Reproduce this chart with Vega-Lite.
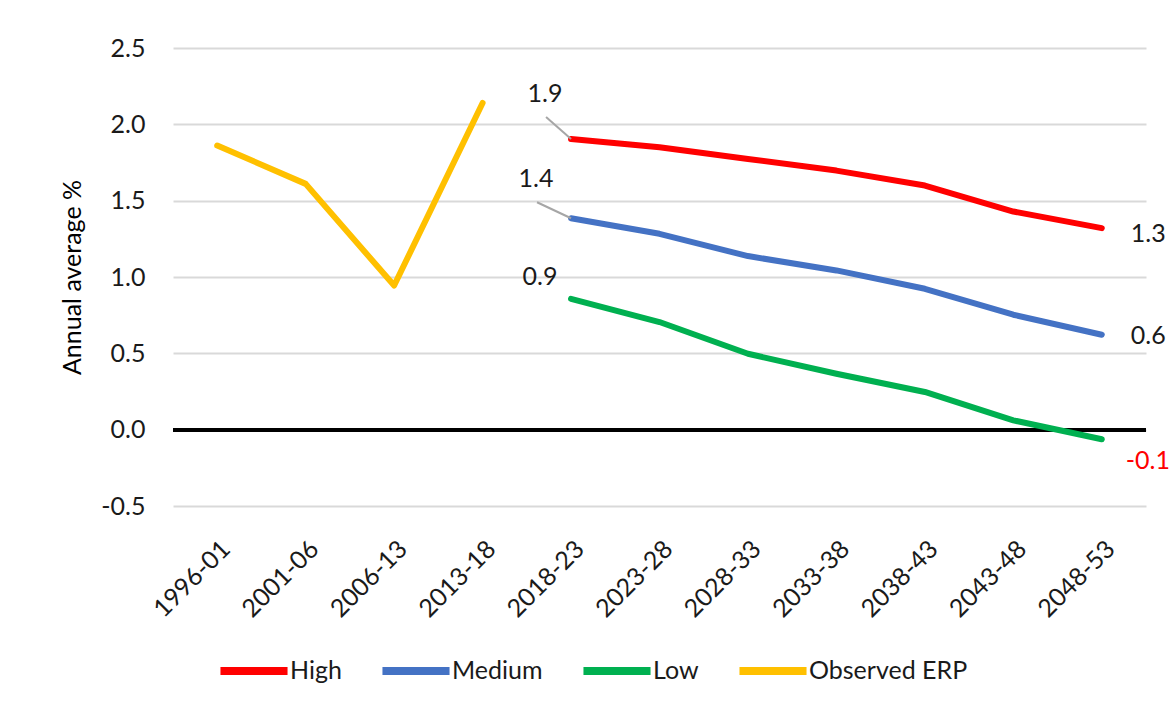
{
  "$schema": "https://vega.github.io/schema/vega-lite/v6.json",
  "autosize": {"type": "none"},
  "width": 973,
  "height": 458,
  "padding": {"left": 173, "top": 48, "right": 30, "bottom": 203},
  "background": "white",
  "config": {
    "font": "Lato",
    "view": {"stroke": null},
    "locale": {"number": {"decimal": ".", "thousands": ",", "grouping": [3], "currency": ["$", ""], "minus": "-"}}
  },
  "data": {
    "values": [
      {"period": "1996-01", "series": "Observed ERP", "value": 1.861},
      {"period": "2001-06", "series": "Observed ERP", "value": 1.61},
      {"period": "2006-13", "series": "Observed ERP", "value": 0.944},
      {"period": "2013-18", "series": "Observed ERP", "value": 2.14},
      {"period": "2018-23", "series": "High", "value": 1.904},
      {"period": "2023-28", "series": "High", "value": 1.85},
      {"period": "2028-33", "series": "High", "value": 1.773},
      {"period": "2033-38", "series": "High", "value": 1.697},
      {"period": "2038-43", "series": "High", "value": 1.599},
      {"period": "2043-48", "series": "High", "value": 1.429},
      {"period": "2048-53", "series": "High", "value": 1.32},
      {"period": "2018-23", "series": "Medium", "value": 1.385},
      {"period": "2023-28", "series": "Medium", "value": 1.283},
      {"period": "2028-33", "series": "Medium", "value": 1.137},
      {"period": "2033-38", "series": "Medium", "value": 1.043},
      {"period": "2038-43", "series": "Medium", "value": 0.923},
      {"period": "2043-48", "series": "Medium", "value": 0.753},
      {"period": "2048-53", "series": "Medium", "value": 0.622},
      {"period": "2018-23", "series": "Low", "value": 0.857},
      {"period": "2023-28", "series": "Low", "value": 0.705},
      {"period": "2028-33", "series": "Low", "value": 0.497},
      {"period": "2033-38", "series": "Low", "value": 0.366},
      {"period": "2038-43", "series": "Low", "value": 0.247},
      {"period": "2043-48", "series": "Low", "value": 0.061},
      {"period": "2048-53", "series": "Low", "value": -0.063}
    ]
  },
  "encoding": {
    "x": {
      "field": "period", "type": "ordinal",
      "sort": ["1996-01","2001-06","2006-13","2013-18","2018-23","2023-28","2028-33","2033-38","2038-43","2043-48","2048-53"],
      "scale": {"type": "point", "padding": 0.5, "domain": ["1996-01","2001-06","2006-13","2013-18","2018-23","2023-28","2028-33","2033-38","2038-43","2043-48","2048-53"]},
      "axis": {"title": null, "labelAngle": -45, "labelAlign": "right", "labelBaseline": "top", "labelPadding": 30, "labelOffset": 0, "ticks": false, "tickSize": 0, "domain": false, "grid": false, "labelFontSize": 25, "labelColor": "#1a1a1a"}
    },
    "y": {
      "field": "value", "type": "quantitative",
      "scale": {"domain": [-0.5, 2.5], "nice": false, "zero": false},
      "axis": {"title": "Annual average %", "values": [-0.5, 0, 0.5, 1, 1.5, 2, 2.5], "format": ".1f", "ticks": false, "tickSize": 0, "domain": false, "grid": true, "gridColor": "#d9d9d9", "gridWidth": 2, "labelPadding": 28, "labelFontSize": 25, "labelColor": "#1a1a1a", "titleFontSize": 25, "titleFontWeight": "normal", "titleColor": "#000000", "titlePadding": 15}
    }
  },
  "layer": [
    {
      "mark": {"type": "rule", "color": "black", "strokeWidth": 3},
      "encoding": {"y": {"datum": 0}, "x": null}
    },
    {
      "mark": {"type": "line", "strokeWidth": 6, "strokeCap": "round", "strokeJoin": "round"},
      "encoding": {
        "color": {
          "field": "series", "type": "nominal",
          "scale": {"domain": ["High", "Medium", "Low", "Observed ERP"], "range": ["#FF0000", "#4472C4", "#00B050", "#FFC000"]},
          "legend": {"title": null, "orient": "none", "direction": "horizontal", "legendX": 43, "legendY": 585, "symbolType": "stroke", "symbolStrokeWidth": 8, "symbolSize": 4500, "labelFontSize": 25, "labelColor": "#1a1a1a", "labelOffset": -2, "columnPadding": 24, "padding": 0}
        }
      }
    },
    {
      "transform": [{"filter": "datum.period == '2018-23' && datum.series == 'High'"}],
      "mark": {"type": "rule", "color": "#a6a6a6", "strokeWidth": 2, "x2Offset": -25, "y2Offset": -22},
      "encoding": {"x2": {"field": "period"}, "y2": {"field": "value"}}
    },
    {
      "transform": [{"filter": "datum.period == '2018-23' && datum.series == 'Medium'"}],
      "mark": {"type": "rule", "color": "#a6a6a6", "strokeWidth": 2, "x2Offset": -34, "y2Offset": -16},
      "encoding": {"x2": {"field": "period"}, "y2": {"field": "value"}}
    },
    {
      "transform": [{"filter": "datum.period == '2018-23' && datum.series == 'High'"}],
      "mark": {"type": "text", "fontSize": 25, "color": "#1a1a1a", "align": "center", "baseline": "middle", "dx": -26, "dy": -45},
      "encoding": {"text": {"field": "value", "format": ".1f"}}
    },
    {
      "transform": [{"filter": "datum.period == '2018-23' && datum.series == 'Medium'"}],
      "mark": {"type": "text", "fontSize": 25, "color": "#1a1a1a", "align": "center", "baseline": "middle", "dx": -35, "dy": -39},
      "encoding": {"text": {"field": "value", "format": ".1f"}}
    },
    {
      "transform": [{"filter": "datum.period == '2018-23' && datum.series == 'Low'"}],
      "mark": {"type": "text", "fontSize": 25, "color": "#1a1a1a", "align": "center", "baseline": "middle", "dx": -31, "dy": -22},
      "encoding": {"text": {"field": "value", "format": ".1f"}}
    },
    {
      "transform": [{"filter": "datum.period == '2048-53' && datum.series == 'High'"}],
      "mark": {"type": "text", "fontSize": 25, "color": "#1a1a1a", "align": "left", "baseline": "middle", "dx": 29, "dy": 6},
      "encoding": {"text": {"field": "value", "format": ".1f"}}
    },
    {
      "transform": [{"filter": "datum.period == '2048-53' && datum.series == 'Medium'"}],
      "mark": {"type": "text", "fontSize": 25, "color": "#1a1a1a", "align": "left", "baseline": "middle", "dx": 29, "dy": 1},
      "encoding": {"text": {"field": "value", "format": ".1f"}}
    },
    {
      "transform": [{"filter": "datum.period == '2048-53' && datum.series == 'Low'"}],
      "mark": {"type": "text", "fontSize": 25, "color": "#FF0000", "align": "left", "baseline": "middle", "dx": 24, "dy": 22},
      "encoding": {"text": {"field": "value", "format": ".1f"}}
    }
  ]
}
